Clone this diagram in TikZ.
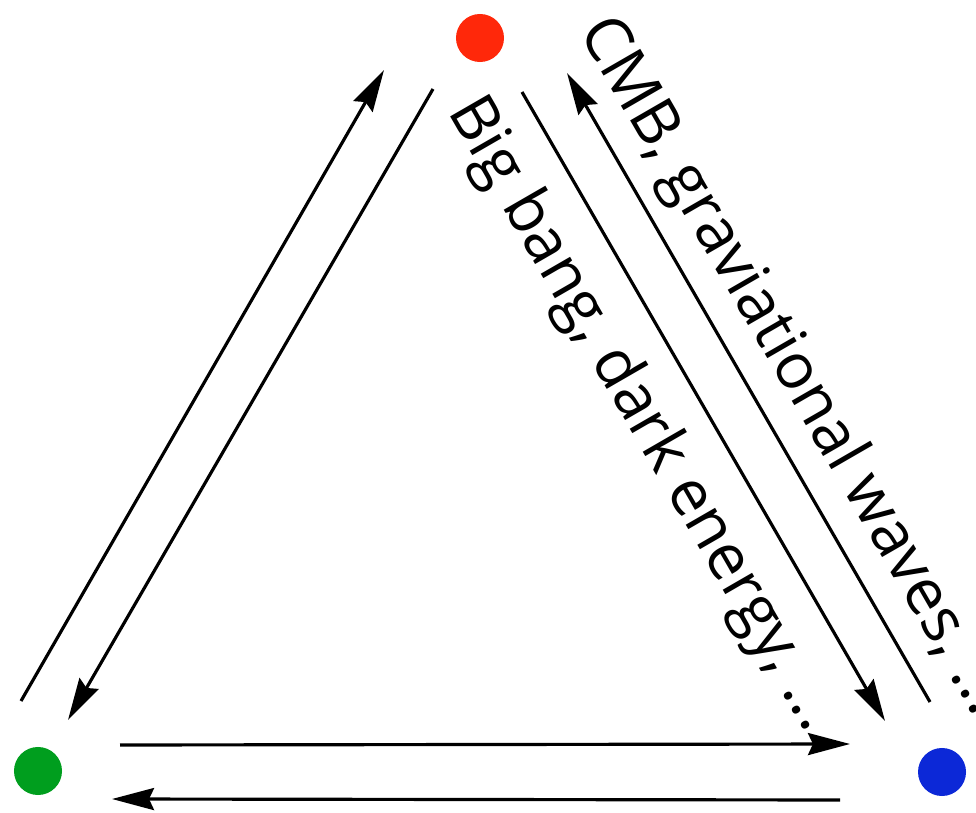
\documentclass[tikz,border=0pt]{standalone}
\usepackage{fontspec}
\setmainfont{Open Sans}
\usetikzlibrary{arrows.meta}

\definecolor{dotred}{RGB}{255,40,10}
\definecolor{dotgreen}{RGB}{0,158,30}
\definecolor{dotblue}{RGB}{12,40,215}

\begin{document}
\begin{tikzpicture}[
  x=0.01cm, y=-0.01cm,
  dot/.style={circle, inner sep=0pt, minimum size=0.48cm},
  arr/.style={-{Stealth[length=0.42cm, width=0.22cm, inset=0.05cm]}, line width=0.9pt},
  lbl/.style={font=\fontsize{18}{20}\selectfont, inner sep=0pt, anchor=mid, rotate=-60}
]

%
%  Layout (pixels, y down):
%
%               (rdot)
%              /      \
%         (gdot) ---- (bdot)
%

\useasboundingbox (0,0) rectangle (976,813);

% --- dots ---
\node[dot, fill=dotred]   (rdot) at (480, 38) {};
\node[dot, fill=dotgreen] (gdot) at (38, 771) {};
\node[dot, fill=dotblue]  (bdot) at (942,772) {};

% ---- Connections ----

% green <-> red
\draw[arr] ([shift={(-17,-70)}]gdot.center) -- ([shift={(-96,32)}]rdot.center);
\draw[arr] ([shift={(-47,51)}]rdot.center)  -- ([shift={(30,-51)}]gdot.center);

% red <-> blue
\draw[arr] ([shift={(42,54)}]rdot.center)   -- ([shift={(-57,-51)}]bdot.center);
\draw[arr] ([shift={(-12,-70)}]bdot.center) -- ([shift={(87,35)}]rdot.center);

% green <-> blue
\draw[arr] ([shift={(82,-26)}]gdot.center)  -- ([shift={(-92,-28)}]bdot.center);
\draw[arr] ([shift={(-102,28)}]bdot.center) -- ([shift={(74,28)}]gdot.center);

% ---- labels along red -- blue ----
\node[lbl] (bigbang) at (635,418) {Big bang, dark energy, ...};
\node[lbl] (cmb)     at (785,370) {CMB, graviational waves, ...};

\end{tikzpicture}
\end{document}
